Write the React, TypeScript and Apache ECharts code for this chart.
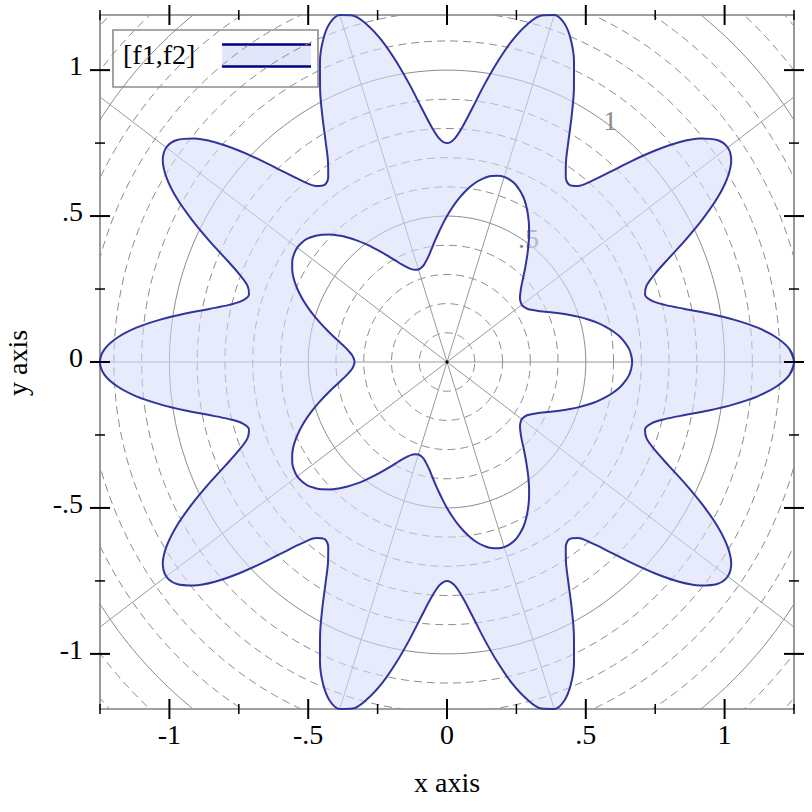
import React, { useEffect, useRef } from "react";
import * as echarts from "echarts";

// ---- data ----
// polar samples every 2 degrees, starting at 0 degrees
const ANGLE_STEP_DEG = 2;

// outer bound f2 (radius)
const OUTER_R = [
  1.25, 1.235, 1.191, 1.125, 1.043, 0.957, 0.875, 0.809, 0.765, 0.75, 0.765, 0.809, 0.875, 0.957, 1.043, 1.125, 1.191, 1.235,
  1.25, 1.235, 1.191, 1.125, 1.043, 0.957, 0.875, 0.809, 0.765, 0.75, 0.765, 0.809, 0.875, 0.957, 1.043, 1.125, 1.191, 1.235,
  1.25, 1.235, 1.191, 1.125, 1.043, 0.957, 0.875, 0.809, 0.765, 0.75, 0.765, 0.809, 0.875, 0.957, 1.043, 1.125, 1.191, 1.235,
  1.25, 1.235, 1.191, 1.125, 1.043, 0.957, 0.875, 0.809, 0.765, 0.75, 0.765, 0.809, 0.875, 0.957, 1.043, 1.125, 1.191, 1.235,
  1.25, 1.235, 1.191, 1.125, 1.043, 0.957, 0.875, 0.809, 0.765, 0.75, 0.765, 0.809, 0.875, 0.957, 1.043, 1.125, 1.191, 1.235,
  1.25, 1.235, 1.191, 1.125, 1.043, 0.957, 0.875, 0.809, 0.765, 0.75, 0.765, 0.809, 0.875, 0.957, 1.043, 1.125, 1.191, 1.235,
  1.25, 1.235, 1.191, 1.125, 1.043, 0.957, 0.875, 0.809, 0.765, 0.75, 0.765, 0.809, 0.875, 0.957, 1.043, 1.125, 1.191, 1.235,
  1.25, 1.235, 1.191, 1.125, 1.043, 0.957, 0.875, 0.809, 0.765, 0.75, 0.765, 0.809, 0.875, 0.957, 1.043, 1.125, 1.191, 1.235,
  1.25, 1.235, 1.191, 1.125, 1.043, 0.957, 0.875, 0.809, 0.765, 0.75, 0.765, 0.809, 0.875, 0.957, 1.043, 1.125, 1.191, 1.235,
  1.25, 1.235, 1.191, 1.125, 1.043, 0.957, 0.875, 0.809, 0.765, 0.75, 0.765, 0.809, 0.875, 0.957, 1.043, 1.125, 1.191, 1.235,
];

// inner bound f1 (radius)
const INNER_R = [
  0.667, 0.664, 0.657, 0.644, 0.628, 0.607, 0.583, 0.557, 0.529, 0.5, 0.471, 0.443, 0.417, 0.393, 0.372, 0.356, 0.343, 0.336,
  0.333, 0.336, 0.343, 0.356, 0.372, 0.393, 0.417, 0.443, 0.471, 0.5, 0.529, 0.557, 0.583, 0.607, 0.628, 0.644, 0.657, 0.664,
  0.667, 0.664, 0.657, 0.644, 0.628, 0.607, 0.583, 0.557, 0.529, 0.5, 0.471, 0.443, 0.417, 0.393, 0.372, 0.356, 0.343, 0.336,
  0.333, 0.336, 0.343, 0.356, 0.372, 0.393, 0.417, 0.443, 0.471, 0.5, 0.529, 0.557, 0.583, 0.607, 0.628, 0.644, 0.657, 0.664,
  0.667, 0.664, 0.657, 0.644, 0.628, 0.607, 0.583, 0.557, 0.529, 0.5, 0.471, 0.443, 0.417, 0.393, 0.372, 0.356, 0.343, 0.336,
  0.333, 0.336, 0.343, 0.356, 0.372, 0.393, 0.417, 0.443, 0.471, 0.5, 0.529, 0.557, 0.583, 0.607, 0.628, 0.644, 0.657, 0.664,
  0.667, 0.664, 0.657, 0.644, 0.628, 0.607, 0.583, 0.557, 0.529, 0.5, 0.471, 0.443, 0.417, 0.393, 0.372, 0.356, 0.343, 0.336,
  0.333, 0.336, 0.343, 0.356, 0.372, 0.393, 0.417, 0.443, 0.471, 0.5, 0.529, 0.557, 0.583, 0.607, 0.628, 0.644, 0.657, 0.664,
  0.667, 0.664, 0.657, 0.644, 0.628, 0.607, 0.583, 0.557, 0.529, 0.5, 0.471, 0.443, 0.417, 0.393, 0.372, 0.356, 0.343, 0.336,
  0.333, 0.336, 0.343, 0.356, 0.372, 0.393, 0.417, 0.443, 0.471, 0.5, 0.529, 0.557, 0.583, 0.607, 0.628, 0.644, 0.657, 0.664,
];

const X_TICKS = [-1, -0.5, 0, 0.5, 1];
const X_TICK_LABELS = ["-1", "-.5", "0", ".5", "1"];
const Y_TICKS = [-1, -0.5, 0, 0.5, 1];
const Y_TICK_LABELS = ["-1", "-.5", "0", ".5", "1"];
const X_MINOR = [-1.25, -0.75, -0.25, 0.25, 0.75, 1.25];
const Y_MINOR = [-0.75, -0.25, 0.25, 0.75];

const GRID_RADII = [0.1, 0.2, 0.3, 0.4, 0.5, 0.6, 0.7, 0.8, 0.9, 1, 1.1, 1.2, 1.3, 1.4, 1.5, 1.6, 1.7, 1.8];
const GRID_RADII_SOLID = [0.5, 1, 1.5];
const RADIAL_ANGLES = [0, 36, 72, 108, 144, 180, 216, 252, 288, 324];
const RING_LABEL_RADII = [0.5, 1];
const RING_LABELS = [".5", "1"];
const RING_LABEL_ANGLE = 54;

const LEGEND_LABEL = "[f1,f2]";
const X_TITLE = "x axis";
const Y_TITLE = "y axis";

// ---- styles ----
const FONT = "Liberation Serif";
const FS = 28;
const SMOOTH = 1 / 3;
const LINE_COLOR = "#30349c";
const FILL_COLOR = "rgba(213,219,250,0.56)";
const GRID_COLOR = "#8c8c8c";
const FRAME_COLOR = "#808080";

const rad = (d: number) => (d * Math.PI) / 180;
const toXY = (r: number, deg: number): [number, number] => [r * Math.cos(rad(deg)), r * Math.sin(rad(deg))];

const outerPts = OUTER_R.map((r, i) => toXY(r, i * ANGLE_STEP_DEG));
const innerPts = INNER_R.map((r, i) => toXY(r, i * ANGLE_STEP_DEG));
// wrap the loop so the smoothed line closes without a kink
const wrap = (p: [number, number][]) => [p[p.length - 1], ...p, p[0], p[1]];

const allPts = [...outerPts, ...innerPts];
const X_MAX = Math.max(...allPts.map((p) => Math.abs(p[0])));
const Y_MAX = Math.max(...allPts.map((p) => Math.abs(p[1])));
const X_MIN = -X_MAX;
const Y_MIN = -Y_MAX;

// closed smooth ring path in pixel space (same control-point rule as the line series)
function smoothRing(q: number[][]): string {
  const n = q.length;
  const dist = (a: number[], b: number[]) => Math.hypot(b[0] - a[0], b[1] - a[1]);
  const cps = q.map((p, i) => {
    const prev = q[(i - 1 + n) % n];
    const next = q[(i + 1) % n];
    const l0 = dist(prev, p);
    const l1 = dist(p, next);
    const ratio = l0 + l1 > 0 ? l1 / (l0 + l1) : 0.5;
    const vx = (next[0] - prev[0]) * SMOOTH;
    const vy = (next[1] - prev[1]) * SMOOTH;
    return {
      inX: p[0] - vx * (1 - ratio),
      inY: p[1] - vy * (1 - ratio),
      outX: p[0] + vx * ratio,
      outY: p[1] + vy * ratio,
    };
  });
  let d = "M" + q[0][0].toFixed(2) + "," + q[0][1].toFixed(2);
  for (let i = 0; i < n; i++) {
    const j = (i + 1) % n;
    d +=
      "C" +
      cps[i].outX.toFixed(2) + "," + cps[i].outY.toFixed(2) + " " +
      cps[j].inX.toFixed(2) + "," + cps[j].inY.toFixed(2) + " " +
      q[j][0].toFixed(2) + "," + q[j][1].toFixed(2);
  }
  return d + "Z";
}

function buildOption(): any {
  const gridSeries = {
    type: "custom",
    coordinateSystem: "cartesian2d",
    clip: true,
    silent: true,
    z: 1,
    data: [[0, 0]],
    renderItem: (_p: any, api: any) => {
      const children: any[] = [];
      GRID_RADII.forEach((r) => {
        const pts: number[][] = [];
        for (let a = 0; a <= 360; a += 2) pts.push(api.coord(toXY(r, a)));
        const solid = GRID_RADII_SOLID.indexOf(r) >= 0;
        children.push({
          type: "polyline",
          shape: { points: pts },
          style: {
            stroke: GRID_COLOR,
            lineWidth: 1,
            fill: null,
            lineDash: solid ? null : [8, 5],
          },
        });
      });
      const c = api.coord([0, 0]);
      RADIAL_ANGLES.forEach((a) => {
        const p = api.coord(toXY(2.5, a));
        children.push({
          type: "line",
          shape: { x1: c[0], y1: c[1], x2: p[0], y2: p[1] },
          style: { stroke: "#999999", lineWidth: 1 },
        });
      });
      RING_LABEL_RADII.forEach((r, i) => {
        const p = api.coord(toXY(r, RING_LABEL_ANGLE));
        children.push({
          type: "text",
          x: p[0],
          y: p[1] - 5,
          style: {
            text: RING_LABELS[i],
            fill: "#8c8c8c",
            fontSize: FS,
            fontFamily: FONT,
            align: "center",
            verticalAlign: "middle",
          },
        });
      });
      children.push({
        type: "circle",
        shape: { cx: c[0], cy: c[1], r: 1.6 },
        style: { fill: "#000" },
      });
      return { type: "group", children };
    },
  };

  const fillSeries = {
    type: "custom",
    coordinateSystem: "cartesian2d",
    clip: false,
    silent: true,
    z: 2,
    data: [[0, 0]],
    renderItem: (_p: any, api: any) => {
      const outerPx = outerPts.map((pt) => api.coord(pt));
      const innerPx = [...innerPts].reverse().map((pt) => api.coord(pt));
      const d = smoothRing(outerPx) + smoothRing(innerPx);
      return {
        type: "path",
        shape: { pathData: d },
        style: { fill: FILL_COLOR, stroke: null },
      };
    },
  };

  const lineSeries = (name: string, pts: number[][]) => ({
    name,
    type: "line",
    data: pts,
    showSymbol: false,
    symbol: "none",
    smooth: SMOOTH,
    clip: false,
    silent: true,
    z: 3,
    lineStyle: { color: LINE_COLOR, width: 2 },
    emphasis: { disabled: true },
  });

  const decorSeries = {
    type: "custom",
    coordinateSystem: "cartesian2d",
    clip: false,
    silent: true,
    z: 5,
    data: [[0, 0]],
    renderItem: (_p: any, api: any) => {
      const ch: any[] = [];
      const vt = (x: number, y: number, h: number, w: number) =>
        ch.push({ type: "line", shape: { x1: x, y1: y - h, x2: x, y2: y + h }, style: { stroke: "#000", lineWidth: w } });
      const ht = (x: number, y: number, h: number, w: number) =>
        ch.push({ type: "line", shape: { x1: x - h, y1: y, x2: x + h, y2: y }, style: { stroke: "#000", lineWidth: w } });
      X_TICKS.forEach((x, i) => {
        const b = api.coord([x, Y_MIN]);
        const t = api.coord([x, Y_MAX]);
        vt(b[0], b[1], 10, 2);
        vt(t[0], t[1], 10, 2);
        ch.push({
          type: "text",
          x: b[0],
          y: b[1] + 25.5,
          style: { text: X_TICK_LABELS[i], fill: "#000", fontSize: FS, fontFamily: FONT, align: "center", verticalAlign: "middle" },
        });
      });
      X_MINOR.forEach((x) => {
        const b = api.coord([x, Y_MIN]);
        const t = api.coord([x, Y_MAX]);
        vt(b[0], b[1], 5, 1.5);
        vt(t[0], t[1], 5, 1.5);
      });
      Y_TICKS.forEach((y, i) => {
        const l = api.coord([X_MIN, y]);
        const r = api.coord([X_MAX, y]);
        ht(l[0], l[1], 10, 2);
        ht(r[0], r[1], 10, 2);
        ch.push({
          type: "text",
          x: l[0] - 17,
          y: l[1] - 4.5,
          style: { text: Y_TICK_LABELS[i], fill: "#000", fontSize: FS, fontFamily: FONT, align: "right", verticalAlign: "middle" },
        });
      });
      Y_MINOR.forEach((y) => {
        const l = api.coord([X_MIN, y]);
        const r = api.coord([X_MAX, y]);
        ht(l[0], l[1], 5, 1.5);
        ht(r[0], r[1], 5, 1.5);
      });
      return { type: "group", children: ch };
    },
  };

  const axisBase = {
    type: "value",
    axisLine: { show: true, onZero: false, lineStyle: { color: FRAME_COLOR, width: 1.6 } },
    axisTick: { show: false },
    axisLabel: { show: false },
    splitLine: { show: false },
  };

  return {
    animation: false,
    backgroundColor: "#ffffff",
    grid: { left: 100, top: 15, right: 18, bottom: 103, containLabel: false },
    xAxis: [
      { ...axisBase, min: X_MIN, max: X_MAX, position: "bottom" },
      { ...axisBase, min: X_MIN, max: X_MAX, position: "top" },
    ],
    yAxis: [
      { ...axisBase, min: Y_MIN, max: Y_MAX, position: "left" },
      { ...axisBase, min: Y_MIN, max: Y_MAX, position: "right" },
    ],
    series: [
      gridSeries,
      fillSeries,
      lineSeries("f2", wrap(outerPts)),
      lineSeries("f1", wrap(innerPts)),
      decorSeries,
    ],
    graphic: [
      {
        type: "text",
        x: 447,
        y: 782.5,
        z: 10,
        style: { text: X_TITLE, fill: "#000", fontSize: FS, fontFamily: FONT, align: "center", verticalAlign: "middle" },
      },
      {
        type: "text",
        x: 17.5,
        y: 363,
        rotation: Math.PI / 2,
        z: 10,
        style: { text: Y_TITLE, fill: "#000", fontSize: FS, fontFamily: FONT, align: "center", verticalAlign: "middle" },
      },
      {
        type: "group",
        z: 20,
        children: [
          {
            type: "rect",
            shape: { x: 113, y: 30, width: 205, height: 57 },
            style: { fill: "rgba(255,255,255,0.65)", stroke: "#8c8c8c", lineWidth: 1.6 },
          },
          {
            type: "text",
            x: 123,
            y: 54,
            style: { text: LEGEND_LABEL, fill: "#000", fontSize: FS, fontFamily: FONT, align: "left", verticalAlign: "middle" },
          },
          {
            type: "rect",
            shape: { x: 222, y: 44.5, width: 89, height: 22 },
            style: { fill: "#e1e6fb" },
          },
          {
            type: "line",
            shape: { x1: 222, y1: 44.5, x2: 311, y2: 44.5 },
            style: { stroke: "#00007f", lineWidth: 2.5 },
          },
          {
            type: "line",
            shape: { x1: 222, y1: 66.5, x2: 311, y2: 66.5 },
            style: { stroke: "#00007f", lineWidth: 2.5 },
          },
        ],
      },
    ],
  };
}

export default function App() {
  const ref = useRef<HTMLDivElement>(null);
  useEffect(() => {
    if (!ref.current) return;
    const chart = echarts.init(ref.current, undefined, { renderer: "svg" });
    chart.setOption(buildOption());
    return () => chart.dispose();
  }, []);
  return (
    <div
      ref={ref}
      style={{ position: "fixed", left: 0, top: 0, width: 812, height: 812, background: "#fff" }}
    />
  );
}
